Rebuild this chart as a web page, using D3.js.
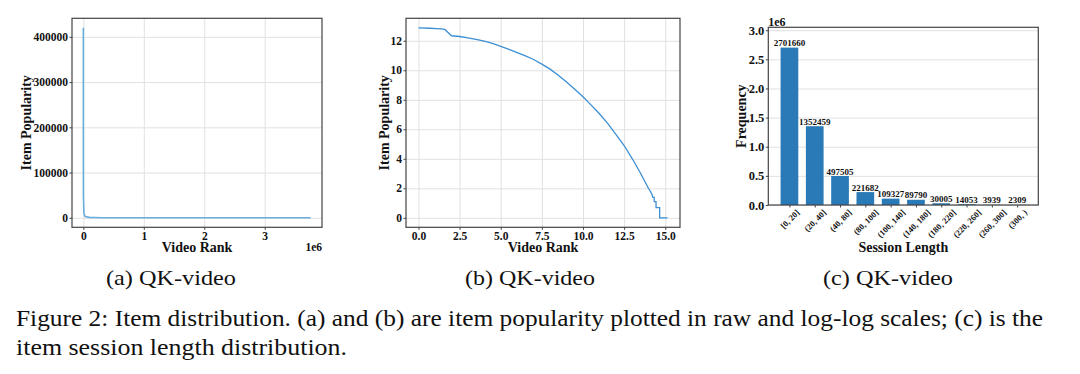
<!DOCTYPE html>
<html>
<head>
<meta charset="utf-8">
<script src="https://cdn.jsdelivr.net/npm/d3@7"></script>
<style>
  body { margin: 0; background: #fff; }
  svg { display: block; }
  text { font-family: "Liberation Serif", "Times New Roman", serif; }
</style>
</head>
<body>
<div id="fig"></div>
<script>
// (a) raw popularity vs rank
const rawRank = [0, 4, 9, 99, 999, 9999, 29999, 99999, 299999, 999999, 3760000];
const rawPop  = [420000, 370000, 220000, 120000, 46000, 8300, 3000, 900, 200, 40, 1];
const rawXTicks = [0, 1e6, 2e6, 3e6];
const rawYTicks = [0, 100000, 200000, 300000, 400000];

// (b) log-log popularity
const logRank = [0, 0.7, 1.1, 1.4, 1.6, 1.8, 2.0, 2.5, 3.0, 3.5, 4.0, 4.5, 5.0, 5.5, 6.0, 6.5, 7.0, 7.5,
                 8.0, 8.5, 9.0, 9.5, 10.0, 10.5, 11.0, 11.5, 12.0, 12.5, 13.0, 13.5, 14.0, 14.1, 14.18,
                 14.25, 14.33, 14.33, 14.44, 14.44, 14.66, 14.66, 15.14];
const logPop  = [12.88, 12.85, 12.83, 12.81, 12.77, 12.56, 12.34, 12.29, 12.2, 12.1, 11.98, 11.82, 11.62,
                 11.42, 11.2, 10.97, 10.73, 10.42, 10.08, 9.67, 9.2, 8.72, 8.2, 7.64, 7.05, 6.4, 5.66,
                 4.9, 4.0, 3.02, 1.95, 1.79, 1.61, 1.386, 1.386, 1.099, 1.099, 0.693, 0.693, 0, 0];
const logXTicks = [0, 2.5, 5, 7.5, 10, 12.5, 15];
const logYTicks = [0, 2, 4, 6, 8, 10, 12];

// (c) session length distribution
const sessionBins = ["[0, 20]", "(20, 40]", "(40, 80]", "(80, 100]", "(100, 140]", "(140, 180]",
                     "(180, 220]", "(220, 260]", "(260, 300]", "(300, )"];
const sessionFreq = [2701660, 1352459, 497505, 221682, 109327, 89790, 30005, 14053, 3939, 2309];
const freqTicks = [0, 0.5e6, 1e6, 1.5e6, 2e6, 2.5e6, 3e6];

const subCaptions = ["(a) QK-video", "(b) QK-video", "(c) QK-video"];
const captionLines = [
  "Figure 2: Item distribution. (a) and (b) are item popularity plotted in raw and log-log scales; (c) is the",
  "item session length distribution."
];

const svg = d3.select("#fig").append("svg").attr("width", 1080).attr("height", 374);
const frameCol = "#444", gridCol = "#e1e1e1";

function styleAxis(sel, size) {
  sel.select(".domain").remove();
  sel.selectAll(".tick line").attr("stroke", frameCol).attr("stroke-width", 1);
  sel.selectAll(".tick text").attr("fill", "#111").style("font-size", size + "px")
    .style("font-weight", "bold").style("font-family", '"Liberation Serif", serif');
}
function grid(g, axis) {
  g.call(axis.tickFormat("")).call(s => {
    s.select(".domain").remove();
    s.selectAll(".tick line").attr("stroke", gridCol).attr("stroke-width", 1);
  });
}
function frame(g, x0, y0, x1, y1) {
  g.append("rect").attr("x", x0).attr("y", y0).attr("width", x1 - x0).attr("height", y1 - y0)
    .attr("fill", "none").attr("stroke", frameCol).attr("stroke-width", 1.2);
}
function label(g, txt, x, y, rot, size) {
  g.append("text").attr("transform", `translate(${x},${y}) rotate(${rot})`)
    .attr("text-anchor", "middle").style("font-size", size + "px").style("font-weight", "bold")
    .attr("fill", "#111").text(txt);
}

// ---------- panel (a) ----------
{
  const L = 72, R = 322, T = 18.3, B = 227.3;
  const x = d3.scaleLinear().domain([-188000, 3948000]).range([L, R]);
  const y = d3.scaleLinear().domain([-21000, 441000]).range([B, T]);
  const g = svg.append("g");
  grid(g.append("g").attr("transform", `translate(0,${B})`), d3.axisBottom(x).tickValues(rawXTicks).tickSize(-(B - T)));
  grid(g.append("g").attr("transform", `translate(${L},0)`), d3.axisLeft(y).tickValues(rawYTicks).tickSize(-(R - L)));
  g.append("path").datum(rawRank.map((r, i) => [r, rawPop[i]]))
    .attr("fill", "none").attr("stroke", "#6aaee0").attr("stroke-width", 1.6)
    .attr("d", d3.line().x(d => x(d[0])).y(d => y(d[1])));
  frame(g, L, T, R, B);
  g.append("g").attr("transform", `translate(0,${B})`)
    .call(d3.axisBottom(x).tickValues(rawXTicks).tickSize(2.5).tickPadding(2).tickFormat(v => v / 1e6))
    .call(s => styleAxis(s, 11.5));
  g.append("g").attr("transform", `translate(${L},0)`)
    .call(d3.axisLeft(y).tickValues(rawYTicks).tickSize(2.5).tickPadding(1.5).tickFormat(d3.format("d")))
    .call(s => styleAxis(s, 11.5));
  label(g, "Video Rank", (L + R) / 2, 252, 0, 14);
  label(g, "Item Popularity", 31, (T + B) / 2, -90, 14);
  g.append("text").attr("x", R).attr("y", 251).attr("text-anchor", "end")
    .style("font-size", "11.5px").style("font-weight", "bold").attr("fill", "#111").text("1e6");
}

// ---------- panel (b) ----------
{
  const L = 406, R = 680, T = 18.3, B = 227.3;
  const x = d3.scaleLinear().domain([-0.757, 15.897]).range([L, R]);
  const y = d3.scaleLinear().domain([-0.644, 13.524]).range([B, T]);
  const g = svg.append("g");
  grid(g.append("g").attr("transform", `translate(0,${B})`), d3.axisBottom(x).tickValues(logXTicks).tickSize(-(B - T)));
  grid(g.append("g").attr("transform", `translate(${L},0)`), d3.axisLeft(y).tickValues(logYTicks).tickSize(-(R - L)));
  g.append("path").datum(logRank.map((r, i) => [r, logPop[i]]))
    .attr("fill", "none").attr("stroke", "#3c8fd3").attr("stroke-width", 1.3)
    .attr("d", d3.line().x(d => x(d[0])).y(d => y(d[1])));
  frame(g, L, T, R, B);
  g.append("g").attr("transform", `translate(0,${B})`)
    .call(d3.axisBottom(x).tickValues(logXTicks).tickSize(2.5).tickPadding(2).tickFormat(d3.format(".1f")))
    .call(s => styleAxis(s, 11.5));
  g.append("g").attr("transform", `translate(${L},0)`)
    .call(d3.axisLeft(y).tickValues(logYTicks).tickSize(2.5).tickPadding(1.5).tickFormat(d3.format("d")))
    .call(s => styleAxis(s, 11.5));
  label(g, "Video Rank", (L + R) / 2, 252, 0, 14);
  label(g, "Item Popularity", 389, (T + B) / 2, -90, 14);
}

// ---------- panel (c) ----------
{
  const L = 768.3, R = 1038.3, T = 27.3, B = 205;
  const x = d3.scaleLinear().domain([-0.835, sessionBins.length - 1 + 0.835]).range([L, R]);
  const y = d3.scaleLinear().domain([0, 3.05e6]).range([B, T]);
  const bw = x(0.7) - x(0);
  const g = svg.append("g");
  grid(g.append("g").attr("transform", `translate(${L},0)`), d3.axisLeft(y).tickValues(freqTicks).tickSize(-(R - L)));
  g.selectAll("rect.bar").data(sessionFreq).join("rect").attr("class", "bar")
    .attr("x", (d, i) => x(i) - bw / 2).attr("width", bw)
    .attr("y", d => y(d)).attr("height", d => B - y(d)).attr("fill", "#2a7ab7");
  g.selectAll("text.val").data(sessionFreq).join("text").attr("class", "val")
    .attr("x", (d, i) => x(i)).attr("y", d => y(d) - 1.5).attr("text-anchor", "middle")
    .style("font-size", "9px").style("font-weight", "bold").attr("fill", "#111").text(d => d);
  frame(g, L, T, R, B);
  g.append("g").attr("transform", `translate(${L},0)`)
    .call(d3.axisLeft(y).tickValues(freqTicks).tickSize(2.5).tickPadding(1.5).tickFormat(v => (v / 1e6).toFixed(1)))
    .call(s => styleAxis(s, 12.5));
  const xa = g.append("g").attr("transform", `translate(0,${B})`)
    .call(d3.axisBottom(x).tickValues(d3.range(sessionBins.length)).tickSize(2.5).tickFormat(i => sessionBins[i]))
    .call(s => styleAxis(s, 8.5));
  xa.selectAll(".tick text").each(function () {
    const w = this.getComputedTextLength();
    d3.select(this).attr("y", null).attr("dy", null).attr("dominant-baseline", "central")
      .attr("text-anchor", "middle")
      .attr("transform", `translate(0,${3 + w * 0.707 / 2 + 3}) rotate(-45)`);
  });
  label(g, "Session Length", (L + R) / 2, 252, 0, 14);
  label(g, "Frequency", 746, (T + B) / 2, -90, 14);
  g.append("text").attr("x", L).attr("y", 26).style("font-size", "12px").style("font-weight", "bold")
    .attr("fill", "#111").text("1e6");
}

// ---------- captions ----------
const subX = [171, 530, 888];
svg.selectAll("text.sub").data(subCaptions).join("text").attr("class", "sub")
  .attr("x", (d, i) => subX[i]).attr("y", 285).attr("text-anchor", "middle")
  .attr("textLength", 130).attr("lengthAdjust", "spacingAndGlyphs")
  .style("font-size", "22px").attr("fill", "#111").text(d => d);
const capLen = [1027, 331];
svg.selectAll("text.cap").data(captionLines).join("text").attr("class", "cap")
  .attr("x", 16).attr("y", (d, i) => 326 + i * 29)
  .attr("textLength", (d, i) => capLen[i]).attr("lengthAdjust", "spacingAndGlyphs")
  .style("font-size", "24px").attr("fill", "#111").text(d => d);
</script>
</body>
</html>
